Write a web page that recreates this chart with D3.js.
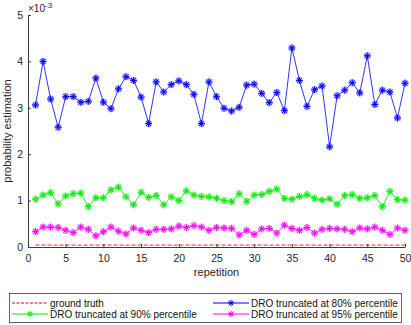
<!DOCTYPE html>
<html>
<head>
<meta charset="utf-8">
<script src="https://cdn.jsdelivr.net/npm/d3@7"></script>
<style>
  body { margin: 0; background: #fff; }
  svg { display: block; font-family: "Liberation Sans", Arial, sans-serif; }
</style>
</head>
<body>
<svg id="chart" width="411" height="325"></svg>
<script>
// repetition index (x)
const reps = [1,2,3,4,5,6,7,8,9,10,11,12,13,14,15,16,17,18,19,20,
  21,22,23,24,25,26,27,28,29,30,31,32,33,34,35,36,37,38,39,40,
  41,42,43,44,45,46,47,48,49,50];

// values in units of 1e-3
const truth = [0.04,0.04,0.04,0.04,0.04,0.04,0.04,0.04,0.04,0.04,
  0.04,0.04,0.04,0.04,0.04,0.04,0.04,0.04,0.04,0.04,
  0.04,0.04,0.04,0.04,0.04,0.04,0.04,0.04,0.04,0.04,
  0.04,0.04,0.04,0.04,0.04,0.04,0.04,0.04,0.04,0.04,
  0.04,0.04,0.04,0.04,0.04,0.04,0.04,0.04,0.04,0.04];

const dro80 = [3.06,4.00,3.19,2.58,3.24,3.24,3.12,3.14,3.64,3.12,
  2.98,3.41,3.67,3.59,3.23,2.66,3.56,3.34,3.50,3.58,
  3.50,3.29,2.66,3.56,3.24,2.99,2.93,3.01,3.49,3.51,
  3.31,3.11,3.33,2.94,4.29,3.59,3.03,3.39,3.47,2.16,
  3.26,3.38,3.54,3.32,4.12,3.07,3.38,3.34,2.78,3.53];

const dro90 = [1.03,1.12,1.17,0.93,1.10,1.15,1.16,0.87,1.06,1.06,
  1.23,1.29,1.08,0.91,1.18,1.07,1.11,0.91,1.08,1.00,
  1.21,1.12,1.09,1.08,1.05,1.00,0.98,1.15,0.98,1.12,
  1.13,1.20,1.25,1.05,1.03,1.09,1.13,1.05,1.01,1.04,
  0.92,1.11,1.13,1.05,1.06,1.11,0.87,1.20,1.02,1.01];

const dro95 = [0.33,0.43,0.43,0.42,0.36,0.31,0.43,0.38,0.24,0.33,
  0.43,0.34,0.28,0.41,0.36,0.31,0.38,0.38,0.39,0.45,
  0.42,0.46,0.43,0.36,0.42,0.41,0.40,0.26,0.36,0.27,
  0.39,0.40,0.30,0.47,0.40,0.36,0.42,0.30,0.38,0.40,
  0.39,0.38,0.33,0.41,0.39,0.43,0.36,0.27,0.41,0.36];

const xTicks = [0,5,10,15,20,25,30,35,40,45,50];
const yTicks = [0,1,2,3,4,5];

const svg = d3.select("#chart");
const axisColor = "#3a3a3a";

const x = d3.scaleLinear().domain([0, 50]).range([28, 405]);
const y = d3.scaleLinear().domain([0, 5]).range([247, 15]);

// asterisk marker like matlab '*'
function star(s) {
  const d = s * 0.707;
  return `M${-s},0L${s},0M0,${-s}L0,${s}M${-d},${-d}L${d},${d}M${-d},${d}L${d},${-d}`;
}

function drawSeries(vals, color, withMarker, dash) {
  const line = d3.line().x((d, i) => x(reps[i])).y(d => y(d));
  if (dash) {
    svg.append("path").datum(vals)
      .attr("d", line)
      .attr("fill", "none")
      .attr("stroke", color)
      .attr("stroke-opacity", 0.5)
      .attr("stroke-width", 1.6)
      .attr("stroke-dasharray", "4,2");
    return;
  }
  svg.append("path").datum(vals)
    .attr("d", line)
    .attr("fill", "none")
    .attr("stroke", color)
    .attr("stroke-opacity", 0.8)
    .attr("stroke-width", 1);
  if (withMarker) {
    const g = svg.append("g");
    g.selectAll("path.halo").data(vals).join("path")
      .attr("class", "halo")
      .attr("d", star(3.6))
      .attr("transform", (d, i) => `translate(${x(reps[i])},${y(d)})`)
      .attr("stroke", color)
      .attr("stroke-opacity", 0.3)
      .attr("stroke-width", 2.4)
      .attr("fill", "none");
    g.selectAll("path.mk").data(vals).join("path")
      .attr("class", "mk")
      .attr("d", star(3.4))
      .attr("transform", (d, i) => `translate(${x(reps[i])},${y(d)})`)
      .attr("stroke", color)
      .attr("stroke-width", 1)
      .attr("fill", "none");
  }
}

drawSeries(truth, "#ff0000", false, true);
drawSeries(dro80, "#0000ff", true, false);
drawSeries(dro90, "#00ee00", true, false);
drawSeries(dro95, "#ff00ff", true, false);

// axes (ticks inside, matlab style, box off)
const xAxis = svg.append("g")
  .attr("transform", `translate(0,${y(0)})`)
  .call(d3.axisBottom(x).tickValues(xTicks).tickFormat(d3.format("d"))
    .tickSize(-3).tickSizeOuter(0).tickPadding(8));
const yAxis = svg.append("g")
  .attr("transform", `translate(${x(0)},0)`)
  .call(d3.axisLeft(y).tickValues(yTicks).tickFormat(d3.format("d"))
    .tickSize(-3).tickSizeOuter(0).tickPadding(5));

[xAxis, yAxis].forEach(a => {
  a.select(".domain").attr("stroke", axisColor);
  a.selectAll(".tick line").attr("stroke", axisColor);
  a.selectAll(".tick text")
    .attr("fill", "#262626")
    .style("font-size", "10.5px")
    .style("font-family", "'Liberation Sans', Arial, sans-serif");
});

// exponent label
const expo = svg.append("text")
  .attr("x", 28).attr("y", 12)
  .attr("fill", "#262626")
  .style("font-size", "10px");
expo.append("tspan").text("\u00d710");
expo.append("tspan").attr("dy", -4).style("font-size", "8px").text("-3");

// axis titles
svg.append("text")
  .attr("x", x(25)).attr("y", 276)
  .attr("text-anchor", "middle")
  .attr("fill", "#262626")
  .style("font-size", "11px")
  .text("repetition");

svg.append("text")
  .attr("transform", `translate(10.5,${(y(0) + y(5)) / 2}) rotate(-90)`)
  .attr("text-anchor", "middle")
  .attr("fill", "#262626")
  .style("font-size", "11px")
  .text("probability estimation");

// legend
const legendItems = [
  { label: "ground truth", color: "#ff0000", marker: false, dash: true, col: 0, row: 0 },
  { label: "DRO truncated at 80% percentile", color: "#0000ff", marker: true, dash: false, col: 1, row: 0 },
  { label: "DRO truncated at 90% percentile", color: "#00ee00", marker: true, dash: false, col: 0, row: 1 },
  { label: "DRO truncated at 95% percentile", color: "#ff00ff", marker: true, dash: false, col: 1, row: 1 }
];

svg.append("rect")
  .attr("x", 9.5).attr("y", 293.5)
  .attr("width", 392).attr("height", 29)
  .attr("fill", "#fff")
  .attr("stroke", axisColor)
  .attr("stroke-width", 0.8);

const colX = [12, 213];
const rowY = [303, 314];
legendItems.forEach(it => {
  const lx = colX[it.col], ly = rowY[it.row];
  const ln = svg.append("line")
    .attr("x1", lx).attr("x2", lx + 36)
    .attr("y1", ly).attr("y2", ly)
    .attr("stroke", it.color)
    .attr("stroke-width", 1);
  if (it.dash) ln.attr("stroke-dasharray", "3,1.5");
  if (it.marker) {
    svg.append("path")
      .attr("d", star(3.2))
      .attr("transform", `translate(${lx + 18},${ly})`)
      .attr("stroke", it.color)
      .attr("stroke-width", 1)
      .attr("fill", "none");
  }
  svg.append("text")
    .attr("x", lx + 38).attr("y", ly + 3.6)
    .attr("fill", "#111")
    .style("font-size", "10px")
    .text(it.label);
});
</script>
</body>
</html>
